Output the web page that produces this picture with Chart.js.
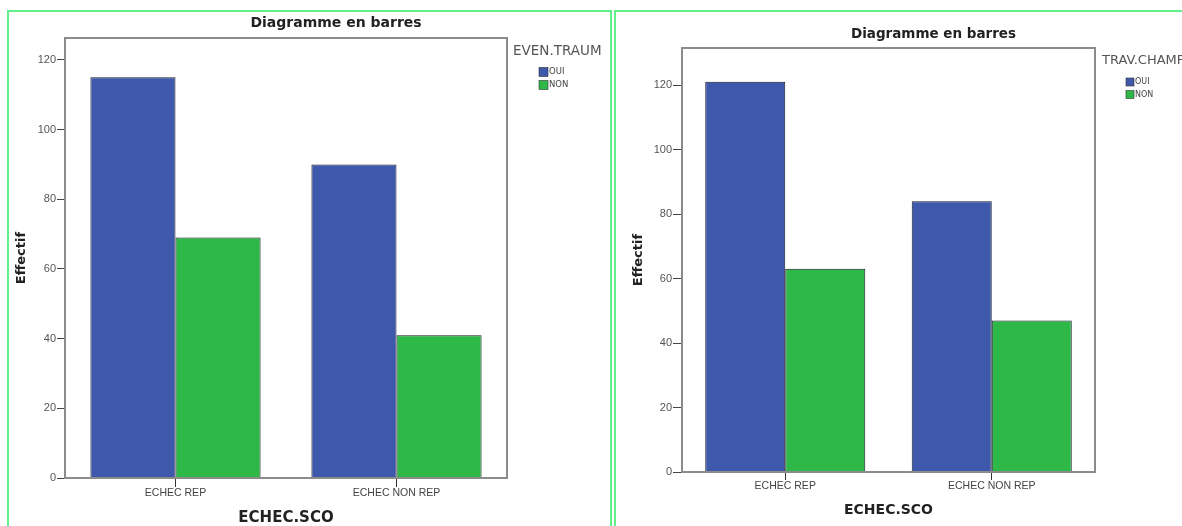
<!DOCTYPE html>
<html><head><meta charset="utf-8">
<script src="https://cdn.jsdelivr.net/npm/chart.js@4.4.1/dist/chart.umd.min.js"></script>
<style>
html,body{margin:0;padding:0;width:1182px;height:526px;overflow:hidden;background:#fff;}
.frame{position:absolute;border:2px solid #62f08c;box-sizing:border-box;}
canvas{position:absolute;top:0;}
</style></head><body>
<div class="frame" style="left:7px;top:10px;width:605px;height:560px"></div>
<div class="frame" style="left:614px;top:10px;width:620px;height:560px"></div>
<canvas id="c1" width="611" height="540" style="left:0px"></canvas>
<canvas id="c2" width="571" height="540" style="left:611px"></canvas>
<script>
const categories = ['ECHEC REP', 'ECHEC NON REP'];
const groupLabels = ['OUI', 'NON'];
const chartTitle = 'Diagramme en barres';
const xAxisTitle = 'ECHEC.SCO';
const yAxisTitle = 'Effectif';
const legendTitleLeft = 'EVEN.TRAUM';
const legendTitleRight = 'TRAV.CHAMP';
const yTickValues = [0, 20, 40, 60, 80, 100, 120];
const evenTraumOui = [115, 90];
const evenTraumNon = [69, 41];
const travChampOui = [121, 84];
const travChampNon = [63, 47];
const barColors = ['#3e58ac', '#2eb848'];

const CANVAS_H = 540;

function makeChart(id, seriesA, seriesB, legendTitle, L) {
  const decor = {
    id: 'decor',
    afterDatasetsDraw(chart) {
      const ctx = chart.ctx, ca = chart.chartArea;
      ctx.save();
      ctx.strokeStyle = '#8c8c8c';
      ctx.lineWidth = 2;
      ctx.strokeRect(ca.left, ca.top, ca.right - ca.left, ca.bottom - ca.top);
      ctx.fillStyle = '#222';
      ctx.font = 'bold ' + L.titleFont + 'px "DejaVu Sans"';
      ctx.textAlign = 'center';
      ctx.textBaseline = 'middle';
      ctx.fillText(chartTitle, L.titleX, L.titleY);
      ctx.fillStyle = '#555';
      ctx.font = L.legendTitleFont + 'px "DejaVu Sans"';
      ctx.textAlign = 'left';
      ctx.fillText(legendTitle, L.legendX, L.legendY);
      chart.data.datasets.forEach((ds, i) => {
        const y = L.swatchY[i];
        ctx.fillStyle = ds.backgroundColor;
        ctx.fillRect(L.swatchX, y - L.swatchSize / 2, L.swatchSize, L.swatchSize);
        ctx.strokeStyle = '#333';
        ctx.lineWidth = 0.6;
        ctx.strokeRect(L.swatchX, y - L.swatchSize / 2, L.swatchSize, L.swatchSize);
        ctx.fillStyle = '#444';
        ctx.font = L.labelFont + 'px "DejaVu Sans"';
        ctx.fillText(ds.label, L.swatchX + L.swatchSize + 1, y);
      });
      ctx.restore();
    }
  };
  return new Chart(document.getElementById(id), {
    type: 'bar',
    data: {
      labels: categories,
      datasets: [
        { label: groupLabels[0], data: seriesA, backgroundColor: barColors[0] },
        { label: groupLabels[1], data: seriesB, backgroundColor: barColors[1] }
      ]
    },
    options: {
      responsive: false,
      animation: false,
      events: [],
      layout: { padding: { left: 0, top: L.areaTop, right: L.padRight, bottom: 0 } },
      datasets: { bar: { categoryPercentage: L.catPct, barPercentage: 1.0, borderWidth: 1, borderColor: '#141a26', borderSkipped: 'start' } },
      plugins: { legend: { display: false }, title: { display: false }, tooltip: { enabled: false } },
      scales: {
        x: {
          offset: true,
          grid: { offset: false, drawOnChartArea: false, drawTicks: true, tickLength: L.xTickLen, color: '#333', lineWidth: 1 },
          border: { display: false },
          ticks: { padding: 0, color: '#444', font: { family: 'Liberation Sans', size: 10.5 }, maxRotation: 0 },
          title: { display: true, text: xAxisTitle, color: '#222', font: { family: 'DejaVu Sans', size: L.xTitleFont, weight: 'bold', lineHeight: 1.2 }, padding: { top: 0, bottom: L.xTitlePadBottom } },
          afterFit(s) { s.height = CANVAS_H - L.areaBottom; }
        },
        y: {
          min: 0, max: L.yMax,
          afterBuildTicks(s) { s.ticks = yTickValues.map(v => ({ value: v })); },
          ticks: { padding: 1, color: '#555', font: { family: 'Liberation Sans', size: 11 } },
          grid: { drawOnChartArea: false, drawTicks: true, tickLength: L.yTickLen, color: '#444', lineWidth: 1 },
          border: { display: false },
          title: { display: true, text: yAxisTitle, color: '#222', font: { family: 'DejaVu Sans', size: L.yTitleFont, weight: 'bold', lineHeight: 1.2 }, padding: { top: L.yTitlePad, bottom: 0 } },
          afterFit(s) { s.width = L.areaLeft; }
        }
      }
    },
    plugins: [decor]
  });
}

makeChart('c1', evenTraumOui, evenTraumNon, legendTitleLeft, {
  areaLeft: 65, areaTop: 38, areaBottom: 478, padRight: 104, yMax: 126.3, catPct: 0.77,
  titleX: 336, titleY: 23, titleFont: 14,
  legendX: 513, legendY: 51, legendTitleFont: 13.5,
  swatchX: 539, swatchY: [72, 85], swatchSize: 9, labelFont: 8.5,
  yTitlePad: 14, yTitleFont: 13, xTitleFont: 15, xTitlePadBottom: 13,
  yTickLen: 8, xTickLen: 9
});
makeChart('c2', travChampOui, travChampNon, legendTitleRight, {
  areaLeft: 71, areaTop: 48, areaBottom: 472, padRight: 87, yMax: 131.5, catPct: 0.775,
  titleX: 322.5, titleY: 34, titleFont: 13.5,
  legendX: 491, legendY: 61, legendTitleFont: 13,
  swatchX: 515, swatchY: [82, 94.5], swatchSize: 8, labelFont: 8,
  yTitlePad: 20, yTitleFont: 13, xTitleFont: 14, xTitlePadBottom: 21.6,
  yTickLen: 9, xTickLen: 8
});
</script>
</body></html>
